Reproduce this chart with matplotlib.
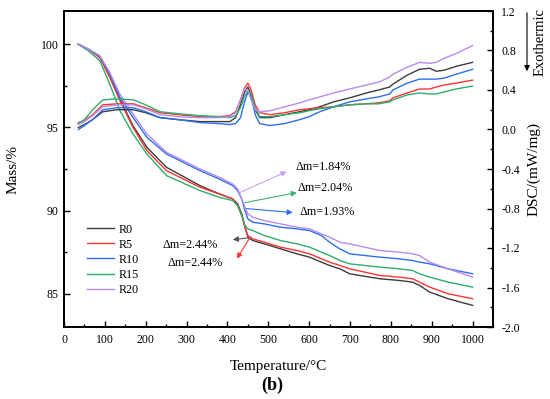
import matplotlib
matplotlib.use("Agg")
import matplotlib.pyplot as plt
from matplotlib.ticker import MultipleLocator
from matplotlib.patches import FancyArrowPatch

plt.rcParams['font.family'] = ['Liberation Serif', 'DejaVu Serif']
plt.rcParams['mathtext.fontset'] = 'stix'

labels = ["R0", "R5", "R10", "R15", "R20"]
colors = ["#3c3c3c", "#ff3434", "#2a6ff0", "#2ead6b", "#b88af0"]

# TG (mass) data
T_tg = [35, 60, 88, 112, 137, 169, 203, 251, 333, 380, 413, 425, 435, 443, 450,
        462, 490, 530, 570, 601, 630, 650, 675, 699, 773, 820, 853, 870, 895, 940, 1000]
mass_R0 = [100, 99.7, 99.2, 98.1, 96.7, 95.1, 93.8, 92.6, 91.5, 91.0, 90.7, 90.4, 89.8, 89.0, 88.4,
           88.2, 88.0, 87.7, 87.4, 87.2, 86.9, 86.7, 86.5, 86.2, 85.9, 85.8, 85.7, 85.5, 85.1, 84.7, 84.3]
mass_R5 = [100, 99.7, 99.2, 98.0, 96.6, 95.0, 93.6, 92.4, 91.4, 91.0, 90.7, 90.3, 89.7, 89.0, 88.5,
           88.3, 88.1, 87.8, 87.6, 87.4, 87.1, 86.9, 86.7, 86.5, 86.1, 86.0, 85.9, 85.7, 85.4, 85.0, 84.7]
mass_R10 = [100, 99.7, 99.3, 98.2, 96.8, 95.6, 94.4, 93.4, 92.4, 91.9, 91.5, 91.2, 90.7, 90.0, 89.5,
            89.3, 89.2, 89.0, 88.9, 88.8, 88.5, 88.1, 87.7, 87.4, 87.2, 87.1, 87.0, 86.9, 86.8, 86.5, 86.2]
mass_R15 = [100, 99.6, 99.0, 97.6, 96.0, 94.6, 93.4, 92.1, 91.2, 90.8, 90.6, 90.3, 89.7, 89.1, 88.9,
            88.8, 88.5, 88.2, 88.0, 87.8, 87.5, 87.3, 87.0, 86.8, 86.6, 86.5, 86.4, 86.2, 86.0, 85.7, 85.4]
mass_R20 = [100, 99.7, 99.3, 98.3, 97.0, 95.8, 94.6, 93.5, 92.5, 92.0, 91.6, 91.3, 90.7, 90.2, 89.8,
            89.6, 89.4, 89.2, 89.0, 88.9, 88.6, 88.4, 88.1, 88.0, 87.6, 87.5, 87.4, 87.3, 86.9, 86.5, 86.0]

# DSC data
T_dsc = [35, 50, 70, 95, 130, 170, 200, 235, 280, 333, 380, 406, 420, 432, 442, 450, 458, 468, 479,
         504, 540, 577, 600, 626, 660, 699, 740, 770, 797, 805, 840, 870, 895, 911, 930, 960, 1000]
dsc_R0 = [0.02, 0.05, 0.10, 0.18, 0.20, 0.20, 0.17, 0.12, 0.10, 0.08, 0.08, 0.08, 0.12, 0.25, 0.38, 0.43,
          0.35, 0.20, 0.12, 0.12, 0.15, 0.18, 0.20, 0.23, 0.28, 0.32, 0.37, 0.40, 0.43, 0.46, 0.55, 0.61,
          0.62, 0.59, 0.60, 0.64, 0.68]
dsc_R5 = [0.07, 0.09, 0.15, 0.25, 0.26, 0.26, 0.22, 0.17, 0.15, 0.13, 0.13, 0.14, 0.18, 0.30, 0.42, 0.47,
          0.40, 0.25, 0.17, 0.15, 0.17, 0.20, 0.21, 0.22, 0.23, 0.25, 0.26, 0.27, 0.29, 0.32, 0.37, 0.41,
          0.41, 0.43, 0.45, 0.47, 0.50]
dsc_R10 = [0.00, 0.04, 0.10, 0.20, 0.22, 0.22, 0.18, 0.12, 0.10, 0.07, 0.06, 0.05, 0.06, 0.12, 0.28, 0.38,
           0.33, 0.15, 0.06, 0.04, 0.06, 0.10, 0.13, 0.18, 0.23, 0.28, 0.31, 0.33, 0.36, 0.40, 0.47, 0.51,
           0.51, 0.51, 0.52, 0.56, 0.61]
dsc_R15 = [0.06, 0.10, 0.20, 0.30, 0.31, 0.30, 0.25, 0.18, 0.16, 0.14, 0.13, 0.12, 0.14, 0.22, 0.34, 0.39,
           0.36, 0.22, 0.13, 0.13, 0.15, 0.17, 0.19, 0.21, 0.23, 0.25, 0.26, 0.26, 0.28, 0.30, 0.35, 0.37,
           0.36, 0.36, 0.38, 0.41, 0.44]
dsc_R20 = [0.05, 0.08, 0.14, 0.23, 0.25, 0.25, 0.21, 0.15, 0.13, 0.12, 0.12, 0.13, 0.17, 0.30, 0.41, 0.40,
           0.30, 0.20, 0.18, 0.19, 0.23, 0.27, 0.30, 0.33, 0.37, 0.41, 0.45, 0.48, 0.53, 0.56, 0.63, 0.68,
           0.67, 0.68, 0.72, 0.77, 0.85]

mass_all = [mass_R0, mass_R5, mass_R10, mass_R15, mass_R20]
dsc_all = [dsc_R0, dsc_R5, dsc_R10, dsc_R15, dsc_R20]

# annotations: text, tail(T, mass), head(T, mass), text pos, ha, color
annot_text = ["Δm=1.84%", "Δm=2.04%", "Δm=1.93%", "Δm=2.44%", "Δm=2.44%"]
annot_tail = [(430, 91.08), (443, 90.48), (447, 90.12), (455, 88.37), (455, 88.37)]
annot_head = [(545, 92.35), (570, 91.08), (560, 89.88), (413, 88.25), (423, 87.11)]
annot_pos = [(567, 92.65), (572, 91.33), (577, 89.94), (377, 87.95), (320, 86.87)]
annot_ha = ["left", "left", "left", "right", "center"]
annot_col = ["#c7a2f2", "#3cb070", "#2a6ff0", "#555555", "#ff3434"]

fig = plt.figure(figsize=(5.5, 3.99), dpi=100)
ax = fig.add_axes([64/550, 1-327/399, (493-64)/550, (327-11)/399])
ax2 = ax.twinx()

for m, d, c, lab in zip(mass_all, dsc_all, colors, labels):
    ax.plot(T_tg, m, color=c, lw=1.0, label=lab)
    ax2.plot(T_dsc, d, color=c, lw=1.0)

ax.set_xlim(0, 1050)
ax.set_ylim(83, 102)
ax2.set_ylim(-2.0, 1.2)

ax.xaxis.set_minor_locator(MultipleLocator(50))
ax.set_xticks(range(0, 1001, 100))
ax.yaxis.set_major_locator(MultipleLocator(5))
ax.yaxis.set_minor_locator(MultipleLocator(2.5))
ax2.yaxis.set_major_locator(MultipleLocator(0.4))
ax2.yaxis.set_minor_locator(MultipleLocator(0.2))
ax2.yaxis.set_major_formatter(plt.FuncFormatter(lambda v, p: f"{v:.1f}"))

for a in (ax, ax2):
    a.tick_params(which='major', direction='in', length=4, width=1.0, labelsize=8.5)
    a.tick_params(which='minor', direction='in', length=2.5, width=1.0)
    for s in a.spines.values():
        s.set_linewidth(1.3)
ax.tick_params(axis='x', pad=5)
ax.tick_params(axis='y', pad=4)
ax2.tick_params(axis='y', pad=6)

ax.set_xlabel("Temperature/°C", fontsize=11, labelpad=10)
ax.set_ylabel("Mass/%", fontsize=11)
ax.yaxis.set_label_coords(-0.103, 0.5)
ax2.set_ylabel("DSC/(mW/mg)", fontsize=11, rotation=90)
ax2.yaxis.set_label_coords(1.08, 0.5)

for t, tail, head, pos, ha, c in zip(annot_text, annot_tail, annot_head, annot_pos, annot_ha, annot_col):
    ax.annotate("", xy=head, xytext=tail,
                arrowprops=dict(arrowstyle='-|>', color=c, lw=0.8, mutation_scale=8,
                                shrinkA=0, shrinkB=0))
    ax.text(pos[0], pos[1], t, ha=ha, va='center', fontsize=8.7)

leg = ax.legend(loc='upper left', bbox_to_anchor=(0.0536, 0.327), frameon=False,
                fontsize=8.7, handlelength=2.2, handletextpad=0.4, labelspacing=0.25,
                borderpad=0, borderaxespad=0)

# Exothermic arrow and label
fig.add_artist(FancyArrowPatch((527/550, 1-10/399), (527/550, 1-74/399),
                               transform=fig.transFigure, arrowstyle='-|>',
                               mutation_scale=8, color='black', lw=0.8))
fig.text(540/550, 1-42/399, "Exothermic", rotation=90, ha='center', va='center', fontsize=10.5)

fig.text(272/550, 1-385/399, "(b)", ha='center', va='center', fontsize=13, fontweight='bold')

fig.savefig("out.png", dpi=100)
